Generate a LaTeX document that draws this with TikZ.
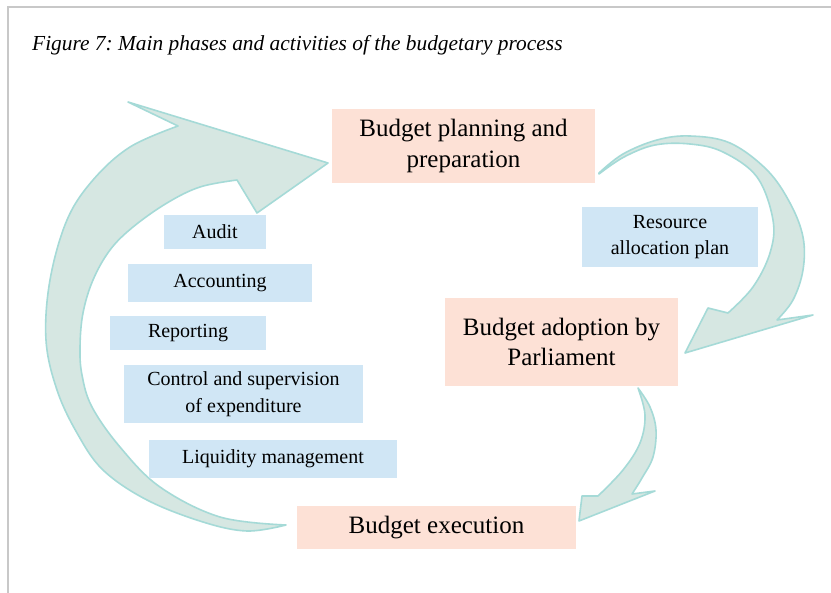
\documentclass[tikz,border=0pt]{standalone}
\usepackage{fontspec}
\setmainfont{Liberation Serif}
\definecolor{arrfill}{RGB}{214,231,226}
\definecolor{arrline}{RGB}{165,218,215}
\definecolor{phasefill}{RGB}{253,225,214}
\definecolor{actfill}{RGB}{208,230,245}
\definecolor{framecol}{RGB}{200,200,200}
\tikzset{
  bigarrow/.style={fill=arrfill, draw=arrline, line width=1.6pt, line join=round},
  phase/.style={fill=phasefill, draw=none, align=center, inner sep=0pt,
    font=\fontsize{25}{30.5}\selectfont},
  activity/.style={fill=actfill, draw=none, align=center, inner sep=0pt,
    font=\fontsize{20}{26.5}\selectfont},
}
\frenchspacing
\begin{document}
\begin{tikzpicture}[x=1pt,y=-1pt]
\useasboundingbox (0,0) rectangle (831,593);
\fill[white] (0,0) rectangle (831,593);
\draw[framecol, line width=1.2pt] (8,593) -- (8,7) -- (831,7);

\node[anchor=base west, inner sep=0pt, font=\fontsize{21.4}{25}\selectfont\itshape] (title) at (32,51)
  {Figure 7: Main phases and activities of the budgetary process};

% large left arrow
\draw[bigarrow] plot[smooth, tension=0.6] coordinates {(286,525) (247,531) (203,522) (147,500) (103,470) (77,433) (57,390) (46,340) (50,280) (67,220) (93,180) (130,147) (178,126)}
  -- (128,102) -- (328,163) -- (257,213) -- (237,180)
  -- plot[smooth, tension=0.6] coordinates {(237,180) (200,187) (167,203) (133,227) (110,250) (93,280) (83,313) (80,347) (82,375) (92,407) (120,447) (160,487) (220,517) (286,525)} -- cycle;

% top-right arrow
\draw[bigarrow] plot[smooth, tension=0.6] coordinates {(599,173) (623,154) (657,140) (690,136) (730,143) (767,170) (790,203) (803,237) (803,270) (793,300) (777,320)}
  -- (813,315) -- (685,353) -- (708,308) -- (728,313)
  -- plot[smooth, tension=0.6] coordinates {(728,313) (753,287) (770,253) (773,220) (757,177) (723,152) (690,144) (655,145) (624,157) (599,174)} -- cycle;

% bottom-right arrow
\draw[bigarrow] plot[smooth, tension=0.6] coordinates {(638,388) (650,407) (656,430) (653,457) (642,478) (632,494)}
  -- (655,491) -- (579,521) -- (582,496) -- (598,496)
  -- plot[smooth, tension=0.6] coordinates {(598,496) (623,470) (640,443) (645,415) (638,388)} -- cycle;

% phases
\node[phase, minimum width=263pt, minimum height=74pt] (plan) at (463.5,146) {Budget planning and\\preparation};
\node[phase, minimum width=233pt, minimum height=88pt] (adopt) at (561.5,342) {Budget adoption by\\Parliament};
\node[phase, minimum width=279pt, minimum height=43pt] (exec) at (436.5,527.5) {Budget execution};

% activities
\node[activity, minimum width=176pt, minimum height=60pt] (resource) at (670,237) {Resource\\allocation plan};
\node[activity, minimum width=102pt, minimum height=34pt] (audit) at (215,232) {Audit};
\node[activity, minimum width=184pt, minimum height=38pt] (accounting) at (220,283) {Accounting};
\node[activity, minimum width=156pt, minimum height=34pt] (reporting) at (188,333) {Reporting};
\node[activity, minimum width=239pt, minimum height=58pt] (control) at (243.5,394) {Control and supervision\\of expenditure};
\node[activity, minimum width=248pt, minimum height=38pt] (liquidity) at (273,459) {Liquidity management};
\end{tikzpicture}
\end{document}
